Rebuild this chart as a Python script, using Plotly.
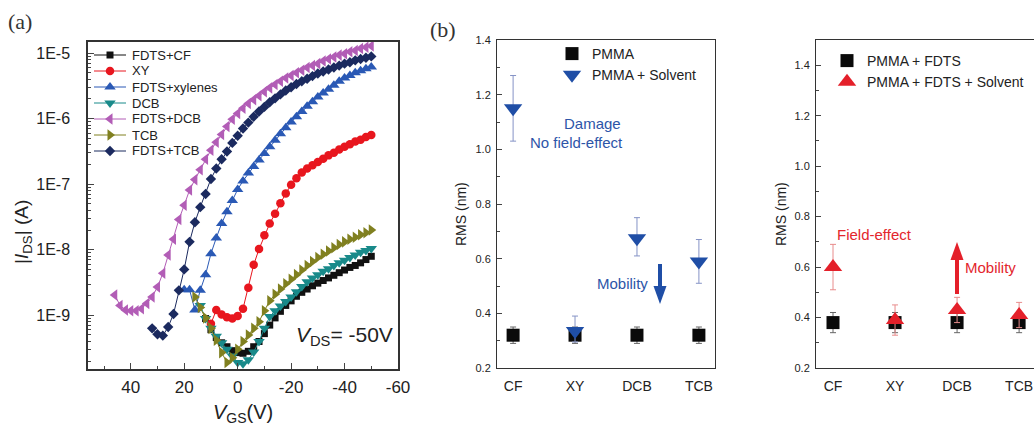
import plotly.graph_objects as go

# ---------------- Panel (a): transfer curves ----------------
# gate voltage grids (V) and log10(|I_DS| / A)
vgs_fdts_cf = list(range(12, -52, -2))
log_fdts_cf = [-9.05, -9.22, -9.34, -9.42, -9.48, -9.54, -9.57, -9.58, -9.55, -9.48,
               -9.40, -9.28, -9.15, -9.04, -8.94, -8.85, -8.78, -8.71, -8.65, -8.60,
               -8.55, -8.51, -8.47, -8.43, -8.39, -8.35, -8.31, -8.27, -8.24, -8.20,
               -8.15, -8.10]

vgs_xy = list(range(10, -52, -2))
log_xy = [-9.13, -8.92, -8.99, -9.03, -9.05, -9.01, -8.90, -8.58, -8.23, -7.99,
          -7.78, -7.60, -7.45, -7.29, -7.14, -7.01, -6.91, -6.82, -6.76, -6.71,
          -6.66, -6.61, -6.56, -6.52, -6.47, -6.43, -6.39, -6.35, -6.32, -6.28,
          -6.25]

vgs_fdts_xyl = list(range(20, -52, -2))
log_fdts_xyl = [-8.61, -8.61, -8.92, -8.62, -8.38, -8.06, -7.82, -7.60, -7.42, -7.25,
                -7.08, -6.95, -6.83, -6.73, -6.63, -6.53, -6.43, -6.33, -6.23, -6.14,
                -6.05, -5.97, -5.89, -5.81, -5.74, -5.67, -5.61, -5.55, -5.49, -5.43,
                -5.38, -5.34, -5.30, -5.27, -5.24, -5.21]

vgs_dcb = list(range(14, -52, -2))
log_dcb = [-8.85, -9.05, -9.20, -9.32, -9.42, -9.52, -9.62, -9.72, -9.74, -9.68,
           -9.56, -9.40, -9.20, -9.02, -8.93, -8.86, -8.79, -8.72, -8.64, -8.56,
           -8.49, -8.43, -8.38, -8.33, -8.29, -8.24, -8.20, -8.16, -8.12, -8.08,
           -8.04, -8.01, -7.98]

vgs_fdts_dcb = list(range(46, -52, -2))
log_fdts_dcb = [-8.69, -8.85, -8.92, -8.93, -8.93, -8.90, -8.82, -8.72, -8.57, -8.36,
                -8.08, -7.84, -7.54, -7.32, -7.09, -6.93, -6.78, -6.62, -6.48, -6.36,
                -6.24, -6.12, -6.01, -5.92, -5.84, -5.77, -5.71, -5.65, -5.59, -5.53,
                -5.48, -5.43, -5.38, -5.34, -5.30, -5.26, -5.22, -5.19, -5.16, -5.12,
                -5.09, -5.06, -5.03, -5.01, -4.98, -4.96, -4.93, -4.91, -4.89]

vgs_tcb = list(range(16, -52, -2))
log_tcb = [-8.72, -8.88, -9.04, -9.20, -9.38, -9.57, -9.72, -9.65, -9.52, -9.40,
           -9.30, -9.20, -9.10, -8.93, -8.78, -8.68, -8.60, -8.52, -8.45, -8.38,
           -8.31, -8.24, -8.18, -8.12, -8.07, -8.02, -7.97, -7.92, -7.88, -7.84,
           -7.81, -7.77, -7.74, -7.70]

vgs_fdts_tcb = list(range(32, -52, -2))
log_fdts_tcb = [-9.20, -9.29, -9.31, -9.18, -8.98, -8.62, -8.30, -7.88, -7.58, -7.35,
                -7.15, -6.92, -6.76, -6.62, -6.50, -6.37, -6.26, -6.15, -6.06, -5.97,
                -5.89, -5.82, -5.75, -5.69, -5.63, -5.57, -5.52, -5.47, -5.43, -5.39,
                -5.35, -5.31, -5.28, -5.25, -5.22, -5.19, -5.16, -5.14, -5.11, -5.09,
                -5.07, -5.05]

y_tick_vals_a = [1e-9, 1e-8, 1e-7, 1e-6, 1e-5]
y_tick_text_a = ["1E-9", "1E-8", "1E-7", "1E-6", "1E-5"]
x_tick_vals_a = [40, 20, 0, -20, -40, -60]
x_tick_text_a = ["40", "20", "0", "-20", "-40", "-60"]

# ---------------- Panels (b), (c): RMS roughness ----------------
categories = ["CF", "XY", "DCB", "TCB"]
rms_pmma = [0.32, 0.32, 0.32, 0.32]
rms_pmma_err = [0.03, 0.03, 0.03, 0.03]
rms_pmma_solv = [1.15, 0.335, 0.675, 0.59]
rms_pmma_solv_err_up = [0.12, 0.055, 0.075, 0.08]
rms_pmma_solv_err_dn = [0.12, 0.04, 0.065, 0.08]

rms_fdts = [0.38, 0.38, 0.38, 0.38]
rms_fdts_err = [0.04, 0.04, 0.04, 0.04]
rms_fdts_solv = [0.60, 0.39, 0.43, 0.41]
rms_fdts_solv_err = [0.09, 0.06, 0.05, 0.05]

FONT = "Liberation Sans, Arial, sans-serif"
W, H = 1034, 427


def px(x):
    return x / W


def py(y):
    return (H - y) / H


series_a = [
    ("FDTS+CF", vgs_fdts_cf, log_fdts_cf, "#111111", "square", 7),
    ("XY", vgs_xy, log_xy, "#e8161e", "circle", 8.5),
    ("FDTS+xylenes", vgs_fdts_xyl, log_fdts_xyl, "#2a59b5", "triangle-up", 10),
    ("DCB", vgs_dcb, log_dcb, "#198a8a", "triangle-down", 10),
    ("FDTS+DCB", vgs_fdts_dcb, log_fdts_dcb, "#b25db6", "triangle-left", 10),
    ("TCB", vgs_tcb, log_tcb, "#808020", "triangle-right", 10),
    ("FDTS+TCB", vgs_fdts_tcb, log_fdts_tcb, "#1b2a5f", "diamond", 8),
]

fig = go.Figure()
for name, xv, lv, col, sym, sz in series_a:
    fig.add_trace(go.Scatter(
        x=xv, y=[10 ** v for v in lv], name=name, mode="lines+markers",
        line=dict(color=col, width=1), marker=dict(symbol=sym, size=sz, color=col),
        xaxis="x", yaxis="y", showlegend=False))

# compact legend for panel (a), laid out in pixel units on a hidden overlay axis
leg_row0, leg_dy = 55, 16
for i, (name, xv, lv, col, sym, sz) in enumerate(series_a):
    yrow = leg_row0 + i * leg_dy
    fig.add_trace(go.Scatter(
        x=[94, 110, 126], y=[yrow, yrow, yrow], mode="lines",
        line=dict(color=col, width=1), xaxis="x4", yaxis="y4",
        showlegend=False, hoverinfo="skip"))
    fig.add_trace(go.Scatter(
        x=[110], y=[yrow], mode="markers",
        marker=dict(symbol=sym, size=sz, color=col), xaxis="x4", yaxis="y4",
        showlegend=False, hoverinfo="skip"))

fig.add_trace(go.Scatter(
    x=categories, y=rms_pmma, name="PMMA", mode="markers",
    marker=dict(symbol="square", size=13, color="#0a0a0a"),
    error_y=dict(type="data", array=rms_pmma_err, color="#666666", thickness=1, width=3),
    xaxis="x2", yaxis="y2", legend="legend2"))
fig.add_trace(go.Scatter(
    x=categories, y=rms_pmma_solv, name="PMMA + Solvent", mode="markers",
    marker=dict(symbol="triangle-down", size=16, color="#1f4ea6"),
    error_y=dict(type="data", array=rms_pmma_solv_err_up, arrayminus=rms_pmma_solv_err_dn,
                 color="#8593c6", thickness=1, width=3),
    xaxis="x2", yaxis="y2", legend="legend2"))

fig.add_trace(go.Scatter(
    x=categories, y=rms_fdts, name="PMMA + FDTS", mode="markers",
    marker=dict(symbol="square", size=13, color="#0a0a0a"),
    error_y=dict(type="data", array=rms_fdts_err, color="#666666", thickness=1, width=3),
    xaxis="x3", yaxis="y3", legend="legend3"))
fig.add_trace(go.Scatter(
    x=categories, y=rms_fdts_solv, name="PMMA + FDTS + Solvent", mode="markers",
    marker=dict(symbol="triangle-up", size=16, color="#e4202a"),
    error_y=dict(type="data", array=rms_fdts_solv_err, color="#e88c8c", thickness=1, width=3),
    xaxis="x3", yaxis="y3", legend="legend3"))

minor_log = [k * 10 ** e for e in range(-10, -4) for k in range(2, 10)]

frame = dict(showline=True, linecolor="#333333", mirror=True, showgrid=False, zeroline=False)

fig.update_layout(
    width=W, height=H, margin=dict(l=0, r=0, t=0, b=0, autoexpand=False),
    paper_bgcolor="white", plot_bgcolor="rgba(0,0,0,0)",
    font=dict(family=FONT, color="#222222"),
    xaxis=dict(domain=[px(88), px(398)], anchor="y", range=[56, -60],
               tickvals=x_tick_vals_a, ticktext=x_tick_text_a, ticks="inside",
               ticklen=6, tickwidth=1.2, tickfont=dict(size=17), ticklabelstandoff=2,
               minor=dict(ticks="inside", ticklen=3, dtick=10, tick0=10),
               linewidth=1.5, **frame),
    yaxis=dict(domain=[py(369), py(42)], anchor="x", type="log", range=[-9.82, -4.83],
               tickvals=y_tick_vals_a, ticktext=y_tick_text_a, ticks="inside",
               ticklen=6, tickwidth=1.2, tickfont=dict(size=16), ticklabelstandoff=13,
               minor=dict(ticks="inside", ticklen=3, tickvals=minor_log),
               linewidth=1.5, **frame),
    xaxis2=dict(domain=[px(497), px(715)], anchor="y2", type="category",
                range=[-0.26, 3.26], ticks="", tickfont=dict(size=14),
                ticklabelstandoff=5, linewidth=1, **frame),
    yaxis2=dict(domain=[py(368), py(40)], anchor="x2", range=[0.2, 1.4],
                dtick=0.2, tickformat=".1f", ticks="inside", ticklen=5,
                tickfont=dict(size=11), ticklabelstandoff=3,
                minor=dict(ticks="inside", ticklen=3, dtick=0.1),
                linewidth=1, **frame),
    xaxis3=dict(domain=[px(816), 1.0], anchor="y3", type="category",
                range=[-0.274, 3.24], ticks="", tickfont=dict(size=14),
                ticklabelstandoff=5, linewidth=1, **frame),
    yaxis3=dict(domain=[py(368), py(40)], anchor="x3", range=[0.2, 1.5],
                tickvals=[0.2, 0.4, 0.6, 0.8, 1.0, 1.2, 1.4], tickformat=".1f",
                ticks="inside", ticklen=5, tickfont=dict(size=11), ticklabelstandoff=3,
                minor=dict(ticks="inside", ticklen=3, dtick=0.1),
                linewidth=1, **frame),
    xaxis4=dict(domain=[0, 1], anchor="y4", range=[0, W], visible=False, fixedrange=True),
    yaxis4=dict(domain=[0, 1], anchor="x4", range=[H, 0], visible=False, fixedrange=True),
    legend2=dict(x=px(552), y=py(38), xanchor="left", yanchor="top",
                 font=dict(size=14), bgcolor="rgba(0,0,0,0)"),
    legend3=dict(x=px(827), y=py(45), xanchor="left", yanchor="top",
                 font=dict(size=14), bgcolor="rgba(0,0,0,0)"),
)

blue_t = "#2d55a8"
red_t = "#e3262d"
ann = [
    dict(text="(a)", x=px(6), y=py(22), xanchor="left", yanchor="middle",
         font=dict(family="Liberation Serif, DejaVu Serif, serif", size=22, color="#333333")),
    dict(text="(b)", x=px(428), y=py(30), xanchor="left", yanchor="middle",
         font=dict(family="Liberation Serif, DejaVu Serif, serif", size=22, color="#333333")),
    dict(text="|<i>I</i><sub>DS</sub>| (A)", x=px(23), y=py(232), textangle=-90,
         xanchor="center", yanchor="middle", font=dict(size=19)),
    dict(text="<i>V</i><sub>GS</sub>(V)", x=px(243), y=py(413), xanchor="center",
         yanchor="middle", font=dict(size=20)),
    dict(text="<i>V</i><sub>DS</sub>= -50V", x=px(344), y=py(336), xanchor="center",
         yanchor="middle", font=dict(size=21)),
    dict(text="RMS (nm)", x=px(461), y=py(214), textangle=-90, xanchor="center",
         yanchor="middle", font=dict(size=14)),
    dict(text="RMS (nm)", x=px(781), y=py(214), textangle=-90, xanchor="center",
         yanchor="middle", font=dict(size=14)),
    dict(text="Damage", x=px(592), y=py(123), xanchor="center", yanchor="middle",
         font=dict(size=15, color=blue_t)),
    dict(text="No field-effect", x=px(576), y=py(142), xanchor="center", yanchor="middle",
         font=dict(size=15, color=blue_t)),
    dict(text="Mobility", x=px(622), y=py(283), xanchor="center", yanchor="middle",
         font=dict(size=15, color=blue_t)),
    dict(text="Field-effect", x=px(874), y=py(235), xanchor="center", yanchor="middle",
         font=dict(size=15, color=red_t)),
    dict(text="Mobility", x=px(990), y=py(267), xanchor="center", yanchor="middle",
         font=dict(size=15, color=red_t)),
]
for i, (name, xv, lv, col, sym, sz) in enumerate(series_a):
    ann.append(dict(text=name, x=px(130), y=py(leg_row0 + i * leg_dy), xanchor="left",
                    yanchor="middle", font=dict(size=13, color="#222222")))
for a in ann:
    a["showarrow"] = False
    a["xref"] = "paper"
    a["yref"] = "paper"

# arrows drawn as shapes (shaft + head), in pixel positions
shapes = []


def arrow(xc, y_tail, y_tip, color, head_len=18, head_w=13, shaft_w=4):
    direction = 1 if y_tip > y_tail else -1
    y_base = y_tip - direction * head_len
    shapes.append(dict(type="line", xref="paper", yref="paper",
                       x0=px(xc), x1=px(xc), y0=py(y_tail), y1=py(y_base + direction * 2),
                       line=dict(color=color, width=shaft_w)))
    path = "M {a},{b} L {c},{d} L {e},{f} Z".format(
        a=px(xc - head_w / 2), b=py(y_base), c=px(xc + head_w / 2), d=py(y_base),
        e=px(xc), f=py(y_tip))
    shapes.append(dict(type="path", xref="paper", yref="paper", path=path,
                       fillcolor=color, line=dict(color=color, width=0)))


arrow(660, 264, 304, "#1f4ea6")
arrow(957, 294, 242, "#e4202a")

fig.update_layout(annotations=ann, shapes=shapes)

fig.write_html("out.html", config={"displayModeBar": False},
               post_script="document.body.style.margin='0';")
